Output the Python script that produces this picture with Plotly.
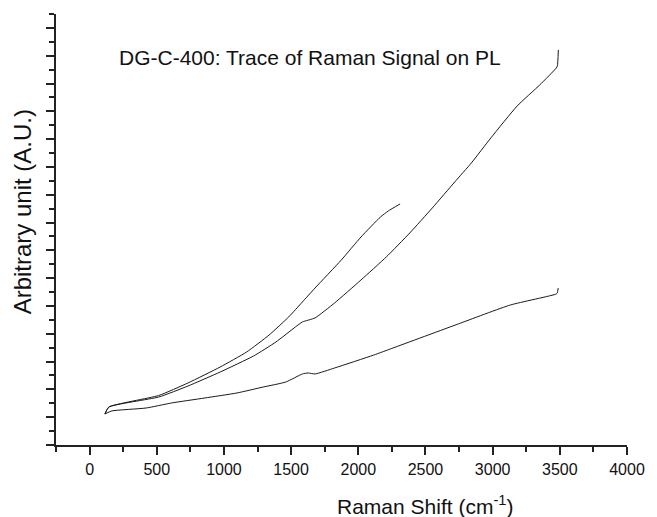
import plotly.graph_objects as go

# Raman shift (cm^-1) and intensity (arbitrary units) for the three traces
shift_a = [114, 143, 514, 732, 972, 1169, 1336, 1482, 1584, 1678, 1874, 2020, 2165, 2223, 2311]
signal_a = [2.23, 2.73, 3.56, 4.46, 5.61, 6.69, 7.91, 9.21, 10.29, 11.29, 13.31, 14.96, 16.40, 16.83, 17.34]

shift_b = [114, 143, 514, 732, 972, 1220, 1387, 1532, 1584, 1678, 1824, 2020, 2209, 2383,
           2551, 2718, 2842, 2987, 3183, 3351, 3474, 3482, 3489]
signal_b = [2.23, 2.73, 3.45, 4.24, 5.25, 6.40, 7.41, 8.49, 8.85, 9.14, 10.22, 11.87, 13.53, 15.25,
            17.05, 18.92, 20.29, 22.09, 24.39, 25.90, 27.12, 27.27, 28.42]

shift_c = [114, 165, 420, 609, 856, 1096, 1292, 1460, 1584, 1627, 1678, 1824, 2115, 2259,
           2745, 3132, 3474, 3481, 3488]
signal_c = [2.23, 2.45, 2.66, 3.02, 3.38, 3.74, 4.17, 4.53, 5.11, 5.18, 5.11, 5.54, 6.47, 6.98,
            8.71, 10.07, 10.86, 10.94, 11.29]

x_ticks = [0, 500, 1000, 1500, 2000, 2500, 3000, 3500, 4000]

FONT = "Liberation Sans, Arial, sans-serif"
LINE = "#1a1a1a"
AXIS = "#222222"
TEXT = "#111111"

fig = go.Figure()
for xs, ys in [(shift_a, signal_a), (shift_b, signal_b), (shift_c, signal_c)]:
    fig.add_trace(go.Scatter(x=xs, y=ys, mode="lines",
                             line=dict(color=LINE, width=1, shape="spline", smoothing=0.5),
                             showlegend=False, hoverinfo="skip"))

fig.update_layout(
    width=657, height=517,
    margin=dict(l=56, r=21, t=14, b=72),
    paper_bgcolor="white", plot_bgcolor="white",
    font=dict(family=FONT, color=TEXT),
    xaxis=dict(
        range=[-250, 4000], showgrid=False, zeroline=False,
        showline=True, linecolor=AXIS, linewidth=1.5,
        tickmode="array", tickvals=x_ticks, ticktext=[str(v) for v in x_ticks],
        ticks="outside", ticklen=8, tickwidth=1.5, tickcolor=AXIS,
        tickfont=dict(size=16, family=FONT, color=TEXT),
        ticklabelstandoff=1,
        minor=dict(dtick=250, tick0=-250, ticks="outside", ticklen=5,
                   tickwidth=1.5, tickcolor=AXIS, showgrid=False),
    ),
    yaxis=dict(
        range=[0, 31], showgrid=False, zeroline=False,
        showline=True, linecolor=AXIS, linewidth=1.5,
        tick0=0, dtick=2, showticklabels=False,
        ticks="outside", ticklen=8, tickwidth=1.5, tickcolor=AXIS,
        minor=dict(dtick=1, tick0=0, ticks="outside", ticklen=5,
                   tickwidth=1.5, tickcolor=AXIS, showgrid=False),
    ),
)

fig.add_annotation(text="DG-C-400: Trace of Raman Signal on PL",
                   xref="paper", yref="paper", x=0.1069, y=0.898,
                   xanchor="left", yanchor="middle", showarrow=False,
                   font=dict(size=21, family=FONT, color=TEXT))
fig.add_annotation(text="Raman Shift (cm<sup>-1</sup>)",
                   xref="paper", yref="paper", x=0.6466, y=-0.139,
                   xanchor="center", yanchor="middle", showarrow=False,
                   font=dict(size=21, family=FONT, color=TEXT))
fig.add_annotation(text="Arbitrary unit (A.U.)", textangle=-90,
                   xref="paper", yref="paper", x=-0.0586, y=0.541,
                   xanchor="center", yanchor="middle", showarrow=False,
                   font=dict(size=24, family=FONT, color=TEXT))

fig.write_html("out.html")
